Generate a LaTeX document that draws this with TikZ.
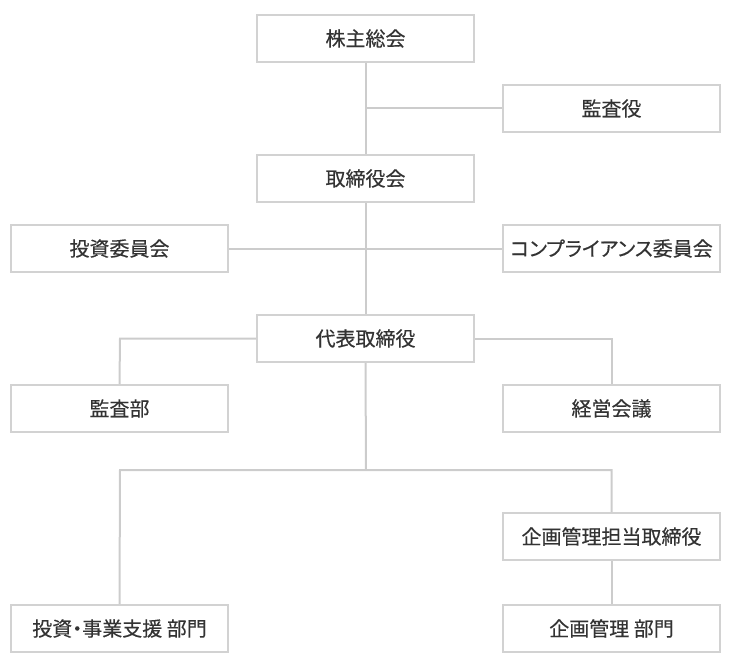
\documentclass[tikz,border=0pt]{standalone}
\usepackage{fontspec}
\setmainfont[RawFeature=+palt]{Noto Sans CJK JP}
\newfontfamily\orgfont[RawFeature=+palt,FakeBold=0.35]{Noto Sans CJK JP}
\definecolor{boxline}{HTML}{D2D2D2}
\definecolor{conn}{HTML}{CCCCCC}
\definecolor{txt}{HTML}{333333}
\begin{document}
\begin{tikzpicture}[x=1pt,y=-1pt,
  orgbox/.style={draw=boxline,line width=2pt,fill=white,minimum width=217pt,minimum height=47pt,inner sep=0pt,text=txt,font=\orgfont\fontsize{20}{22}\selectfont},
  link/.style={draw=conn,line width=2pt}]
\useasboundingbox (0,0) rectangle (732,669);
\coordinate (j1) at (366,108);
\coordinate (j2) at (366,470);
\coordinate (jl) at (120,470);
\coordinate (jr) at (611.5,470);
\coordinate (cl) at (120,338.5);
\coordinate (cr) at (611.5,338.5);
\node[orgbox] (gm) at (365.5,38.5) {株主総会};
\node[orgbox] (aud) at (611.5,108.5) {監査役};
\node[orgbox] (bod) at (365.5,178.5) {取締役会};
\node[orgbox] (inv) at (119.5,248.5) {投資委員会};
\node[orgbox] (comp) at (611.5,248.5) {コンプライアンス委員会};
\node[orgbox] (ceo) at (365.5,338.5) {代表取締役};
\node[orgbox] (iad) at (119.5,408.5) {監査部};
\node[orgbox] (mgm) at (611.5,408.5) {経営会議};
\node[orgbox] (pdir) at (611.5,536.5) {企画管理担当取締役};
\node[orgbox] (invd) at (119.5,628.5) {投資・事業支援 部門};
\node[orgbox] (pd) at (611.5,628.5) {企画管理 部門};
\draw[link] (gm.south) -- (bod.north);
\draw[link] (j1) -- (aud.west |- j1);
\draw[link] (bod.south) -- (ceo.north);
\draw[link] (inv.east) -- (comp.west);
\draw[link] (ceo.west) -- (cl) -- (iad.north);
\draw[link] (ceo.east) -- (cr) -- (mgm.north);
\draw[link] (ceo.south) -- (j2);
\draw[link] (invd.north) -- (jl) -- (jr) -- (pdir.north);
\draw[link] (pdir.south) -- (pd.north);
\end{tikzpicture}
\end{document}
